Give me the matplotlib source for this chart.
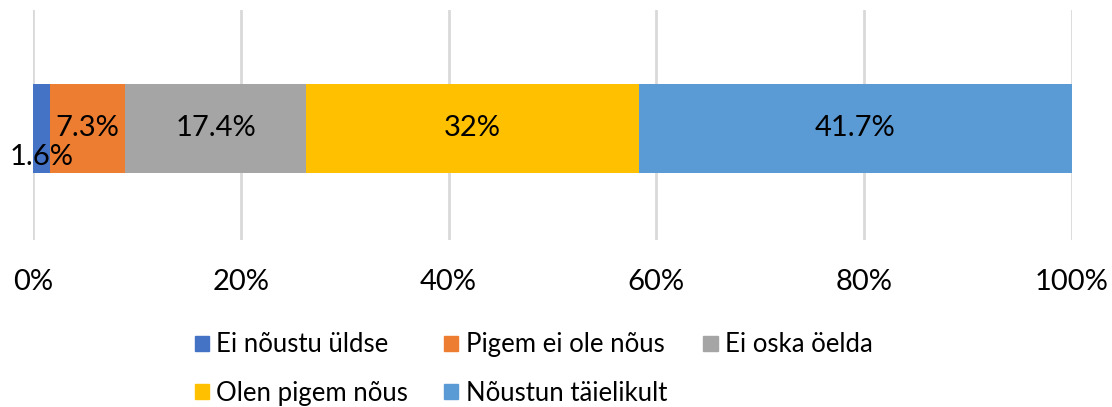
import matplotlib.pyplot as plt
from matplotlib.patches import Patch

categories = ['Ei nõustu üldse', 'Pigem ei ole nõus', 'Ei oska öelda',
              'Olen pigem nõus', 'Nõustun täielikult']
values = [1.6, 7.3, 17.4, 32, 41.7]
labels = ['1.6%', '7.3%', '17.4%', '32%', '41.7%']
colors = ['#4472C4', '#ED7D31', '#A5A5A5', '#FFC000', '#5B9BD5']
xticks = [0, 20, 40, 60, 80, 100]

plt.rcParams['font.family'] = ['Lato', 'DejaVu Sans']

fig = plt.figure(figsize=(11.12, 4.07), dpi=100)
ax = fig.add_axes([33 / 1112, 1 - 240 / 407, (1072 - 33) / 1112, 230 / 407])

left = 0
for cat, v, lab, c in zip(categories, values, labels, colors):
    ax.barh(-0.015, v, left=left, height=0.39, color=c, label=cat, zorder=3)
    # the smallest segment's label is pushed down in the original
    dy = -0.14 if v < 3 else -0.015
    ax.text(left + v / 2, dy, lab, ha='center', va='center', fontsize=21,
            color='black', zorder=4)
    left += v

ax.set_xlim(0, 100)
ax.set_ylim(-0.5, 0.5)
ax.set_xticks(xticks)
ax.set_xticklabels([f'{t}%' for t in xticks], fontsize=21)
ax.set_yticks([])
ax.tick_params(axis='x', length=0, pad=21)
ax.grid(axis='x', color='#D9D9D9', linewidth=2, zorder=0)
for s in ax.spines.values():
    s.set_visible(False)

# legend laid out row by row like the original (matplotlib fills by column)
handles = [Patch(color=c) for c in colors]
order = [0, 3, 1, 4, 2]
fig.legend([handles[i] for i in order], [categories[i] for i in order],
           ncol=3, loc='center', bbox_to_anchor=(0.48, 1 - 369 / 407),
           frameon=False, fontsize=18.5, handlelength=0.55, handleheight=0.55,
           handletextpad=0.3, columnspacing=1.4, labelspacing=0.9)

plt.savefig('out.png', dpi=100)
plt.close()
